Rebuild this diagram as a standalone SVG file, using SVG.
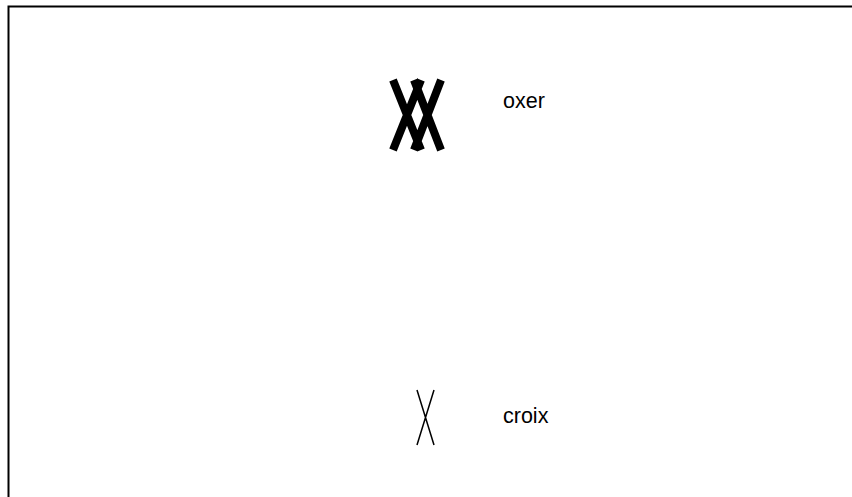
<svg xmlns="http://www.w3.org/2000/svg" width="852" height="497" viewBox="0 0 852 497">
<style>
.lbl{font-family:"Liberation Sans",Arial,sans-serif;font-size:21.5px;fill:#000}
.thick{stroke:#000;stroke-width:8;fill:none}
.thin{stroke:#000;stroke-width:1.5;fill:none}
</style>
<rect width="852" height="497" fill="#fff"/>
<g id="frame"><path d="M8.5 497 V6.5 H852" fill="none" stroke="#000" stroke-width="2"/></g>
<g id="oxer">
<path class="thick" d="M393 80 L421 150 M421 80 L393 150 M414 80 L441 150 M441 80 L414 150"/>
<text class="lbl" x="503" y="107.5">oxer</text>
</g>
<g id="croix">
<path class="thin" d="M417 390 L434 445 M434 390 L417 445"/>
<text class="lbl" x="503" y="422.5">croix</text>
</g>
</svg>
